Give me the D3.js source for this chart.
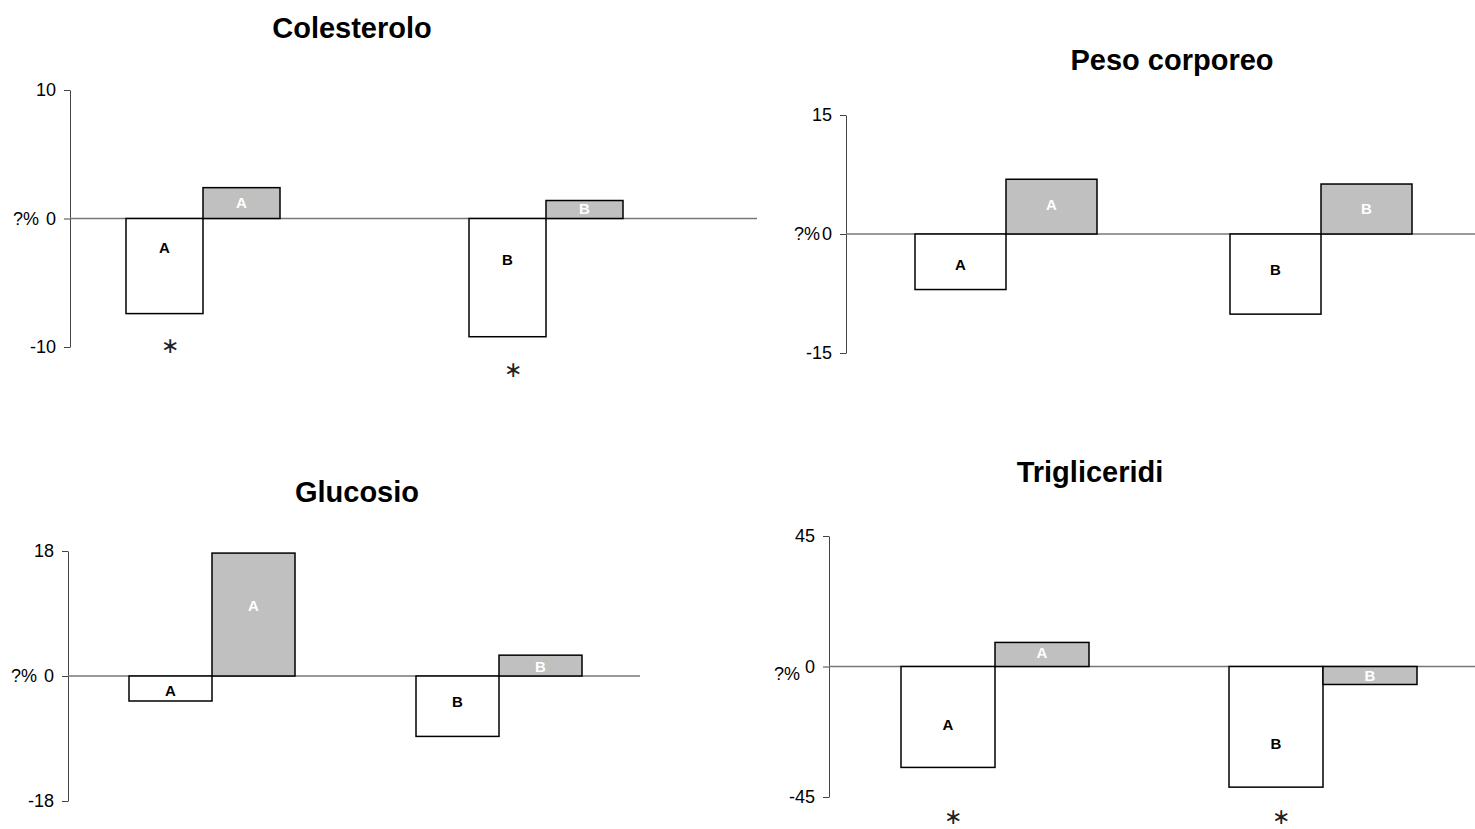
<!DOCTYPE html>
<html>
<head>
<meta charset="utf-8">
<script src="https://cdn.jsdelivr.net/npm/d3@7"></script>
<style>
body { margin: 0; background: #fff; }
svg text { font-family: "Liberation Sans", Arial, Helvetica, sans-serif; }
</style>
</head>
<body>
<svg id="chart" width="1475" height="829"></svg>
<script>
// data
var titles = ["Colesterolo", "Peso corporeo", "Glucosio", "Trigliceridi"];
var groups = ["A", "B"];
var yLimits = [10, 15, 18, 45];
var whiteVals = [[-7.4, -9.2], [-7.0, -10.1], [-3.6, -8.7], [-34.8, -41.6]];
var grayVals  = [[2.4, 1.4], [6.9, 6.3], [17.7, 3.0], [8.3, -6.2]];
// where the letters sit inside the bars (in axis units)
var whiteLbl = [[-2.3, -3.2], [-3.9, -4.6], [-2.2, -3.8], [-20.1, -26.7]];
var grayLbl  = [[1.2, 0.75], [3.6, 3.2], [10.1, 1.25], [4.8, -3.2]];
// asterisks (significance) - value where they are drawn, null = none
var stars = [[-10, -11.9], [null, null], [null, null], [-52.4, -52.4]];

// layout of each small chart (pixels)
var panels = [
  {ax: 70,  yTop: 90,  yBot: 347, lineEnd: 757,  c: [203, 546],   bw: 77, tx: 352,  ty: 38,  qOff: 0, qx: 31},
  {ax: 846, yTop: 115, yBot: 353, lineEnd: 1475, c: [1006, 1321], bw: 91, tx: 1172, ty: 70,  qOff: 0, qx: 26},
  {ax: 68,  yTop: 551, yBot: 801, lineEnd: 640,  c: [212, 499],   bw: 83, tx: 357,  ty: 502, qOff: 0, qx: 31},
  {ax: 829, yTop: 536, yBot: 797, lineEnd: 1475, c: [995, 1323],  bw: 94, tx: 1090, ty: 482, qOff: 7, qx: 29}
];

var svg = d3.select("#chart");

var drawPanel = function(i){
    var p = panels[i];
    var lim = yLimits[i];
    var g = svg.append("g");

    var y = d3.scaleLinear().domain([-lim, lim]).range([p.yBot, p.yTop]);
    var x = d3.scalePoint().domain(groups).range(p.c);
    var inner = d3.scaleBand().domain(["w", "g"]).range([-p.bw, p.bw]).padding(0);

    // title
    g.append("text")
        .attr("x", p.tx).attr("y", p.ty)
        .attr("text-anchor", "middle")
        .attr("font-size", 29).attr("font-weight", "bold")
        .text(titles[i]);

    // y axis
    var axis = d3.axisLeft(y).tickValues([-lim, 0, lim]).tickSize(6).tickSizeOuter(0).tickPadding(8)
        .tickFormat(function(d){ return String(d); });
    var ag = g.append("g").attr("transform", "translate(" + p.ax + ",0)").call(axis);
    ag.select(".domain").attr("stroke", "#444");
    ag.selectAll(".tick line").attr("stroke", "#444");
    ag.selectAll(".tick text").attr("font-size", 18).attr("fill", "#000")
        .attr("font-family", "'Liberation Sans', Arial, sans-serif");

    g.append("text")
        .attr("x", p.ax - p.qx).attr("y", y(0) + 6 + p.qOff)
        .attr("text-anchor", "end")
        .attr("font-size", 18)
        .text("?%");

    // zero line
    g.append("line")
        .attr("x1", p.ax).attr("x2", p.lineEnd)
        .attr("y1", y(0)).attr("y2", y(0))
        .attr("stroke", "#777").attr("stroke-width", 1.5);

    var rows = groups.map(function(k, j){
        return [
            {grp: k, s: "w", v: whiteVals[i][j], lbl: whiteLbl[i][j]},
            {grp: k, s: "g", v: grayVals[i][j], lbl: grayLbl[i][j]}
        ];
    }).flat();

    g.selectAll("rect.bar").data(rows).enter().append("rect")
        .attr("class", "bar")
        .attr("x", function(d){ return x(d.grp) + inner(d.s); })
        .attr("width", inner.bandwidth())
        .attr("y", function(d){ return y(Math.max(0, d.v)); })
        .attr("height", function(d){ return Math.abs(y(d.v) - y(0)); })
        .attr("fill", function(d){ return d.s == "w" ? "#fff" : "#c0c0c0"; })
        .attr("stroke", "#000").attr("stroke-width", 1.5);

    g.selectAll("text.lbl").data(rows).enter().append("text")
        .attr("class", "lbl")
        .attr("x", function(d){ return x(d.grp) + inner(d.s) + inner.bandwidth() / 2; })
        .attr("y", function(d){ return y(d.lbl) + 5; })
        .attr("text-anchor", "middle")
        .attr("font-size", 15).attr("font-weight", "bold")
        .attr("fill", function(d){ return d.s == "w" ? "#000" : "#fff"; })
        .text(function(d){ return d.grp; });

    var st = groups.map(function(k, j){ return {grp: k, v: stars[i][j]}; })
        .filter(function(d){ return d.v !== null; });
    g.selectAll("text.star").data(st).enter().append("text")
        .attr("class", "star")
        .attr("x", function(d){ return x(d.grp) + inner("w") + inner.bandwidth() / 2 + 5; })
        .attr("y", function(d){ return y(d.v) + 6; })
        .attr("text-anchor", "middle")
        .attr("font-size", 22)
        .attr("fill", "#222")
        .attr("font-family", "'DejaVu Sans', sans-serif")
        .attr("font-weight", "300")
        .text("\u2217");
};

for (var i = 0; i < panels.length; i++){
    drawPanel(i);
}
</script>
</body>
</html>
